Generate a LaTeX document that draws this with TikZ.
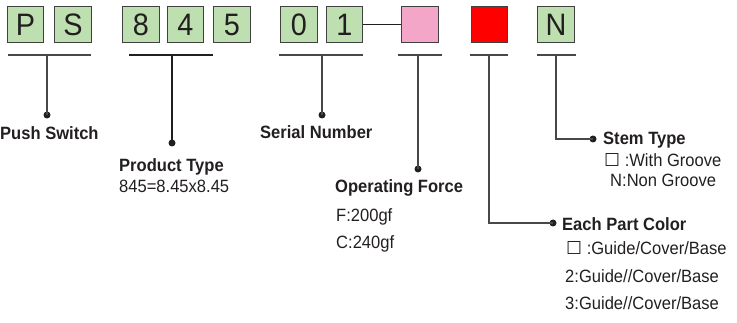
\documentclass[tikz,border=0pt]{standalone}
\usepackage{fontspec}
\setmainfont{Liberation Sans}[FakeStretch=0.93]
\newfontfamily\symfont{DejaVu Sans}
\usetikzlibrary{positioning}
\definecolor{keygreen}{RGB}{190,224,176}
\definecolor{keypink}{RGB}{244,166,200}
\definecolor{keyred}{RGB}{255,0,0}
\definecolor{keyedge}{RGB}{64,64,64}
\definecolor{keyline}{RGB}{72,72,72}
\definecolor{keytext}{RGB}{35,31,32}

\begin{document}
\begin{tikzpicture}[x=1pt,y=-1pt,
    digit/.style={draw=keyedge,line width=1.2pt,fill=keygreen,minimum size=36.5pt,inner sep=0pt,
      font=\fontsize{31}{31}\selectfont,text=keytext},
    swatch/.style={digit,fill=#1},
    head/.style={anchor=base west,inner sep=0pt,text=keytext,font=\fontsize{17.8}{19}\selectfont\bfseries},
    item/.style={anchor=base west,inner sep=0pt,text=keytext,font=\fontsize{17.8}{19}\selectfont},
    bar/.style={draw=keyline,line width=1.1pt},
    tip/.style={circle,fill=keytext,inner sep=0pt,minimum size=7pt}]
    \useasboundingbox (0,0) rectangle (737,323);

    % code boxes
    \node[digit] (P) at (25.5,24.5) {P};
    \node[digit] (S) at (73,24.5) {S};
    \node[digit] (d8) at (141,24.5) {8};
    \node[digit] (d4) at (185.5,24.5) {4};
    \node[digit] (d5) at (232,24.5) {5};
    \node[digit] (d0) at (299,24.5) {0};
    \node[digit] (d1) at (344.5,24.5) {1};
    \node[swatch=keypink] (force) at (420,24.5) {};
    \node[swatch=keyred] (color) at (489.5,24.5) {};
    \node[digit] (N) at (556,24.5) {N};

    \draw[line width=1.4pt,keytext] (d1) -- (force);

    % bars under the boxes
    \draw[bar] (8,55) -- (91,55);
    \draw[line width=1.6pt,keytext] (129,55) -- (213,55);
    \draw[bar] (279,55) -- (363,55);
    \draw[bar] (398,55) -- (442,55);
    \draw[bar] (470,55) -- (508,55);
    \draw[bar] (537,55) -- (576,55);

    \coordinate (psbar) at (47,55);
    \coordinate (typebar) at (172,55);
    \coordinate (serialbar) at (322,55);
    \coordinate (forcebar) at (418,55);
    \coordinate (colorbar) at (489,55);
    \coordinate (stembar) at (556,55);

    % end dots
    \node[tip] (psdot) at (47,115) {};
    \node[tip] (typedot) at (172,143) {};
    \node[tip] (serialdot) at (322,115) {};
    \node[tip] (forcedot) at (418,169) {};
    \node[tip] (colordot) at (553,223) {};
    \node[tip] (stemdot) at (593,139) {};

    \draw[bar] (psbar) -- (psdot.center);
    \draw[line width=1.6pt,keytext] (typebar) -- (typedot.center);
    \draw[bar] (serialbar) -- (serialdot.center);
    \draw[bar] (forcebar) -- (forcedot.center);
    \draw[bar] (colorbar) |- (colordot.center);
    \draw[bar] (stembar) |- (stemdot.center);

    % labels
    \node[head] (ps) at (0,140) {Push Switch};

    \node[head] (type) at (119,172) {Product Type};
    \node[item] (size) at (119,193) {845=8.45x8.45};

    \node[head] (serial) at (260,139) {Serial Number};

    \node[head] (op) at (335,193) {Operating Force};
    \node[item] (f200) at (336,222) {F:200gf};
    \node[item] (c240) at (336,249) {C:240gf};

    \node[head] (stem) at (603,145) {Stem Type};
    \node[item] (groove) at (604,167) {{\symfont ☐} :With Groove};
    \node[item] (nongroove) at (610,187) {N:Non Groove};

    \node[head] (parts) at (562,231) {Each Part Color};
    \node[item] (c1) at (566,255) {{\symfont ☐} :Guide/Cover/Base};
    \node[item] (c2) at (565,283) {2:Guide//Cover/Base};
    \node[item] (c3) at (565,310) {3:Guide//Cover/Base};

\end{tikzpicture}
\end{document}
